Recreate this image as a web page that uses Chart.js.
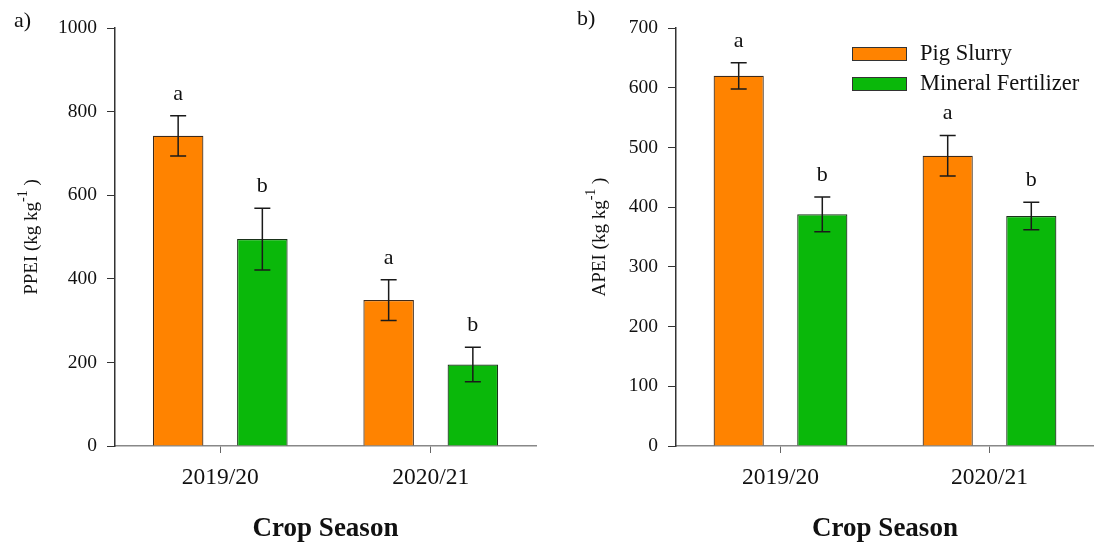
<!DOCTYPE html>
<html>
<head>
<meta charset="utf-8">
<script src="https://cdn.jsdelivr.net/npm/chart.js@4.4.0/dist/chart.umd.min.js"></script>
<style>
  html, body { margin: 0; padding: 0; background: #fff; }
  .wrap { position: relative; width: 1094px; height: 544px; overflow: hidden; }
  canvas { position: absolute; top: 0; }
</style>
</head>
<body>
<div class="wrap">
  <canvas id="ppei" width="547" height="544" style="left:0"></canvas>
  <canvas id="apei" width="547" height="544" style="left:547px"></canvas>
</div>
<script>
// Crop seasons and treatments
const seasons = ['2019/20', '2020/21'];
const seriesNames = ['Pig Slurry', 'Mineral Fertilizer'];

// PPEI (kg kg-1): means, standard errors, significance letters
const ppeiSlurry = [742, 349];
const ppeiSlurryErr = [48, 49];
const ppeiMineral = [495, 195];
const ppeiMineralErr = [74, 41];
const ppeiSlurryLetters = ['a', 'a'];
const ppeiMineralLetters = ['b', 'b'];
const ppeiTicks = [0, 200, 400, 600, 800, 1000];

// APEI (kg kg-1): means, standard errors, significance letters
const apeiSlurry = [620, 486];
const apeiSlurryErr = [22, 34];
const apeiMineral = [388, 385];
const apeiMineralErr = [29, 23];
const apeiSlurryLetters = ['a', 'a'];
const apeiMineralLetters = ['b', 'b'];
const apeiTicks = [0, 100, 200, 300, 400, 500, 600, 700];

const SERIF = "'Liberation Serif', 'Times New Roman', serif";
const ORANGE = '#FF8300';
const GREEN = '#0AB80A';

// Error bars and letters above each bar
const errorBarPlugin = {
  id: 'errorBars',
  afterDatasetsDraw(chart) {
    const ctx = chart.ctx;
    const y = chart.scales.y;
    chart.data.datasets.forEach((ds, i) => {
      const meta = chart.getDatasetMeta(i);
      meta.data.forEach((bar, j) => {
        const v = ds.data[j], e = ds.errors[j];
        const yTop = y.getPixelForValue(v + e);
        const yBot = y.getPixelForValue(v - e);
        const x = bar.x;
        ctx.save();
        ctx.strokeStyle = '#1a1a1a';
        ctx.lineWidth = 1.5;
        ctx.beginPath();
        ctx.moveTo(x, yTop); ctx.lineTo(x, yBot);
        ctx.moveTo(x - 8, yTop); ctx.lineTo(x + 8, yTop);
        ctx.moveTo(x - 8, yBot); ctx.lineTo(x + 8, yBot);
        ctx.stroke();
        ctx.fillStyle = '#111';
        ctx.font = '22px ' + SERIF;
        ctx.textAlign = 'center';
        ctx.textBaseline = 'alphabetic';
        ctx.fillText(ds.letters[j], x, yTop - 16);
        ctx.restore();
      });
    });
  }
};

// Axis titles and panel label
const titlesPlugin = {
  id: 'titles',
  afterDraw(chart, args, opts) {
    const ctx = chart.ctx;
    const area = chart.chartArea;
    ctx.save();
    ctx.fillStyle = '#111';
    // panel label
    ctx.font = '22px ' + SERIF;
    ctx.textAlign = 'left';
    ctx.textBaseline = 'alphabetic';
    ctx.fillText(opts.panel, opts.panelX, opts.panelY);
    // x axis title
    ctx.font = 'bold 27px ' + SERIF;
    ctx.textAlign = 'center';
    ctx.fillText('Crop Season', (area.left + area.right) / 2, 536);
    // y axis title with superscript
    ctx.translate(opts.yTitleX, (area.top + area.bottom) / 2);
    ctx.rotate(-Math.PI / 2);
    const main = opts.yTitle + ' (kg kg';
    const sup = '-1';
    const tail = ' )';
    ctx.font = '19px ' + SERIF;
    const wMain = ctx.measureText(main).width;
    const wTail = ctx.measureText(tail).width;
    ctx.font = '14px ' + SERIF;
    const wSup = ctx.measureText(sup).width;
    const total = wMain + wSup + wTail;
    let cx = -total / 2;
    ctx.textAlign = 'left';
    ctx.font = '19px ' + SERIF;
    ctx.fillText(main, cx, 0);
    cx += wMain;
    ctx.font = '14px ' + SERIF;
    ctx.fillText(sup, cx, -10);
    cx += wSup;
    ctx.font = '19px ' + SERIF;
    ctx.fillText(tail, cx, 0);
    ctx.restore();
  }
};

// Legend drawn inside the right panel
const legendPlugin = {
  id: 'boxLegend',
  afterDraw(chart, args, opts) {
    if (!opts.show) return;
    const ctx = chart.ctx;
    ctx.save();
    chart.data.datasets.forEach((ds, i) => {
      const top = opts.y + i * 30;
      ctx.fillStyle = ds.backgroundColor;
      ctx.fillRect(opts.x, top, 55, 14);
      ctx.strokeStyle = '#333';
      ctx.lineWidth = 1;
      ctx.strokeRect(opts.x + 0.5, top + 0.5, 54, 13);
      ctx.fillStyle = '#111';
      ctx.font = '22.5px ' + SERIF;
      ctx.textAlign = 'left';
      ctx.textBaseline = 'middle';
      ctx.fillText(ds.label, opts.x + 68, top + 7);
    });
    ctx.restore();
  }
};

function makeChart(id, cfg) {
  return new Chart(document.getElementById(id), {
    type: 'bar',
    data: {
      labels: seasons,
      datasets: [
        {
          label: seriesNames[0], data: cfg.slurry, errors: cfg.slurryErr, letters: cfg.slurryLetters,
          backgroundColor: ORANGE, borderColor: '#3d2a1a', borderWidth: 1.2,
          categoryPercentage: 0.8, barPercentage: 0.6
        },
        {
          label: seriesNames[1], data: cfg.mineral, errors: cfg.mineralErr, letters: cfg.mineralLetters,
          backgroundColor: GREEN, borderColor: '#1a321a', borderWidth: 1.2,
          categoryPercentage: 0.8, barPercentage: 0.6
        }
      ]
    },
    options: {
      responsive: false,
      animation: false,
      devicePixelRatio: 1,
      layout: { padding: { left: 0, right: cfg.padRight, top: 28, bottom: 0 } },
      plugins: {
        legend: { display: false },
        tooltip: { enabled: false },
        titles: { panel: cfg.panel, panelX: cfg.panelX, panelY: cfg.panelY, yTitle: cfg.yTitle, yTitleX: cfg.yTitleX },
        boxLegend: { show: cfg.legend, x: 305, y: 47 }
      },
      scales: {
        x: {
          border: { color: '#888', width: 1.5 },
          grid: { offset: false, drawOnChartArea: false, tickLength: 7, color: '#666' },
          ticks: { font: { family: SERIF, size: 23.5 }, color: '#111', padding: 11 },
          afterFit(scale) { scale.height = 98; }
        },
        y: {
          min: 0,
          max: cfg.ticks[cfg.ticks.length - 1],
          afterBuildTicks(scale) { scale.ticks = cfg.ticks.map(v => ({ value: v })); },
          border: { color: '#333', width: 1.5 },
          grid: { drawOnChartArea: false, tickLength: 8, color: '#333' },
          ticks: {
            font: { family: SERIF, size: 19.5 }, color: '#111', padding: 10,
            callback: v => String(v)
          },
          afterFit(scale) { scale.width = cfg.yWidth; }
        }
      }
    },
    plugins: [errorBarPlugin, titlesPlugin, legendPlugin]
  });
}

makeChart('ppei', {
  slurry: ppeiSlurry, slurryErr: ppeiSlurryErr, slurryLetters: ppeiSlurryLetters,
  mineral: ppeiMineral, mineralErr: ppeiMineralErr, mineralLetters: ppeiMineralLetters,
  ticks: ppeiTicks, yWidth: 115, padRight: 11,
  panel: 'a)', panelX: 14, panelY: 27, yTitle: 'PPEI', yTitleX: 37, legend: false
});

makeChart('apei', {
  slurry: apeiSlurry, slurryErr: apeiSlurryErr, slurryLetters: apeiSlurryLetters,
  mineral: apeiMineral, mineralErr: apeiMineralErr, mineralLetters: apeiMineralLetters,
  ticks: apeiTicks, yWidth: 129, padRight: 0,
  panel: 'b)', panelX: 30, panelY: 25, yTitle: 'APEI', yTitleX: 58, legend: true
});
</script>
</body>
</html>
